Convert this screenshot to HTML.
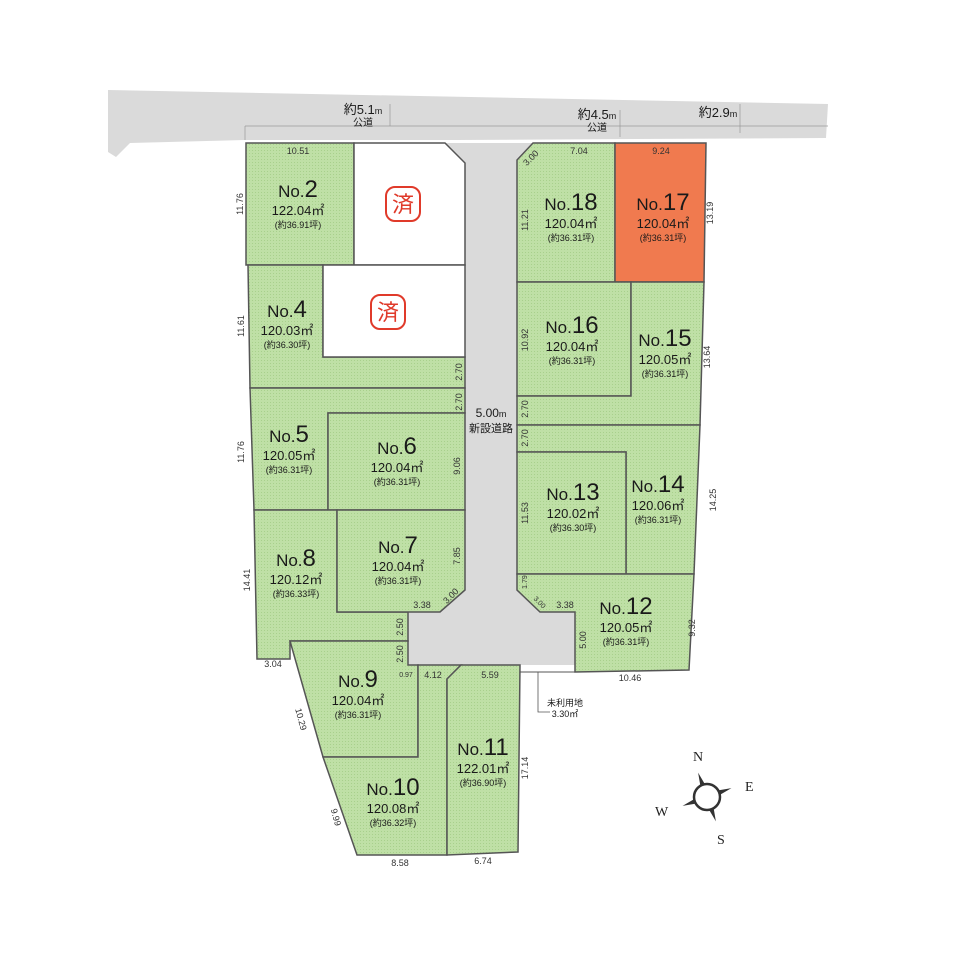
<!DOCTYPE html>
<html><head><meta charset="utf-8"><style>
html,body{margin:0;padding:0;background:#fff;}
svg{display:block;font-family:"Liberation Sans","Noto Sans CJK JP",sans-serif;}
.g{fill:#bfe0a6;stroke:#555;stroke-width:1.5}
.t{fill:#1a1a1a}
.d{font-size:9px;fill:#333}
</style></head><body>
<svg width="960" height="960" viewBox="0 0 960 960">
<defs>
<pattern id="h" width="3" height="3" patternUnits="userSpaceOnUse"><rect width="3" height="3" fill="#bfe0a6"/><rect width="1" height="1" fill="#a8d08c"/></pattern>
</defs>
<polygon points="108,90 828,104 826,138 455,140 245,140 130,143 116,157 108,152" fill="#dadada"/>
<line x1="245" y1="126" x2="828" y2="126" stroke="#999" stroke-width="0.7"/>
<line x1="245" y1="126" x2="245" y2="140" stroke="#999" stroke-width="0.7"/>
<line x1="390" y1="104" x2="390" y2="126" stroke="#999" stroke-width="0.7"/>
<line x1="620" y1="110" x2="620" y2="137" stroke="#999" stroke-width="0.7"/>
<line x1="740" y1="104" x2="740" y2="133" stroke="#999" stroke-width="0.7"/>
<polygon points="445,143 533,143 517,160 517,590 540,612 575,612 575,665 408,665 408,612 440,612 465,590 465,163" fill="#dadada"/>
<polygon class="g" style="fill:url(#h)" points="246,143 354,143 354,265 246,265"/>
<polygon points="354,143 445,143 465,163 465,265 354,265" fill="#fff" stroke="#555" stroke-width="1.5"/>
<polygon class="g" style="fill:url(#h)" points="248,265 323,265 323,357 465,357 465,388 250,388"/>
<polygon points="323,265 465,265 465,357 323,357" fill="#fff" stroke="#555" stroke-width="1.5"/>
<polygon class="g" style="fill:url(#h)" points="250,388 465,388 465,413 328,413 328,510 254,510"/>
<polygon class="g" style="fill:url(#h)" points="328,413 465,413 465,510 328,510"/>
<polygon class="g" style="fill:url(#h)" points="254,510 337,510 337,612 408,612 408,641 290,641 290,659 257,659"/>
<polygon class="g" style="fill:url(#h)" points="337,510 465,510 465,590 440,612 337,612"/>
<polygon class="g" style="fill:url(#h)" points="290,641 408,641 408,665 418,665 418,757 323,757"/>
<polygon class="g" style="fill:url(#h)" points="418,665 461,665 447,679 447,855 357,855 323,757 418,757"/>
<polygon class="g" style="fill:url(#h)" points="461,665 520,665 518,852 447,855 447,679"/>
<polygon class="g" style="fill:url(#h)" points="533,143 615,143 615,282 517,282 517,160"/>
<polygon points="615,143 706,143 704,282 615,282" fill="#f07a4f" stroke="#555" stroke-width="1.5"/>
<polygon class="g" style="fill:url(#h)" points="517,282 631,282 631,396 517,396"/>
<polygon class="g" style="fill:url(#h)" points="631,282 704,282 700,425 517,425 517,396 631,396"/>
<polygon class="g" style="fill:url(#h)" points="517,425 700,425 694,574 626,574 626,452 517,452"/>
<polygon class="g" style="fill:url(#h)" points="517,452 626,452 626,574 517,574"/>
<polygon class="g" style="fill:url(#h)" points="517,574 694,574 689,670 575,672 575,612 540,612 517,590"/>
<polyline points="520,672 575,672" fill="none" stroke="#555" stroke-width="1"/>
<polyline points="538,672 538,712 550,712" fill="none" stroke="#555" stroke-width="0.8"/>
<rect x="386" y="187" width="34" height="34" rx="9" fill="none" stroke="#e03a2a" stroke-width="2"/>
<text x="403" y="212" font-size="22" fill="#e03a2a" text-anchor="middle">済</text>
<rect x="371" y="295" width="34" height="34" rx="9" fill="none" stroke="#e03a2a" stroke-width="2"/>
<text x="388" y="320" font-size="22" fill="#e03a2a" text-anchor="middle">済</text>
<g class="t" text-anchor="middle">
<text x="363" y="114" font-size="13">約5.1<tspan font-size="9">m</tspan></text>
<text x="363" y="126" font-size="10">公道</text>
<text x="597" y="119" font-size="13">約4.5<tspan font-size="9">m</tspan></text>
<text x="597" y="131" font-size="10">公道</text>
<text x="718" y="117" font-size="13">約2.9<tspan font-size="9">m</tspan></text>
<text x="491" y="417" font-size="12">5.00<tspan font-size="9">m</tspan></text>
<text x="491" y="432" font-size="11">新設道路</text>
<text x="565" y="706" font-size="9">未利用地</text>
<text x="565" y="717" font-size="9">3.30㎡</text>
</g>
<g class="t" text-anchor="middle">
<text x="298" y="197"><tspan font-size="17">No.</tspan><tspan font-size="24">2</tspan></text><text x="298" y="215" font-size="13">122.04㎡</text><text x="298" y="228" font-size="9">(約36.91坪)</text>
<text x="287" y="317"><tspan font-size="17">No.</tspan><tspan font-size="24">4</tspan></text><text x="287" y="335" font-size="13">120.03㎡</text><text x="287" y="348" font-size="9">(約36.30坪)</text>
<text x="289" y="442"><tspan font-size="17">No.</tspan><tspan font-size="24">5</tspan></text><text x="289" y="460" font-size="13">120.05㎡</text><text x="289" y="473" font-size="9">(約36.31坪)</text>
<text x="397" y="454"><tspan font-size="17">No.</tspan><tspan font-size="24">6</tspan></text><text x="397" y="472" font-size="13">120.04㎡</text><text x="397" y="485" font-size="9">(約36.31坪)</text>
<text x="398" y="553"><tspan font-size="17">No.</tspan><tspan font-size="24">7</tspan></text><text x="398" y="571" font-size="13">120.04㎡</text><text x="398" y="584" font-size="9">(約36.31坪)</text>
<text x="296" y="566"><tspan font-size="17">No.</tspan><tspan font-size="24">8</tspan></text><text x="296" y="584" font-size="13">120.12㎡</text><text x="296" y="597" font-size="9">(約36.33坪)</text>
<text x="358" y="687"><tspan font-size="17">No.</tspan><tspan font-size="24">9</tspan></text><text x="358" y="705" font-size="13">120.04㎡</text><text x="358" y="718" font-size="9">(約36.31坪)</text>
<text x="393" y="795"><tspan font-size="17">No.</tspan><tspan font-size="24">10</tspan></text><text x="393" y="813" font-size="13">120.08㎡</text><text x="393" y="826" font-size="9">(約36.32坪)</text>
<text x="483" y="755"><tspan font-size="17">No.</tspan><tspan font-size="24">11</tspan></text><text x="483" y="773" font-size="13">122.01㎡</text><text x="483" y="786" font-size="9">(約36.90坪)</text>
<text x="626" y="614"><tspan font-size="17">No.</tspan><tspan font-size="24">12</tspan></text><text x="626" y="632" font-size="13">120.05㎡</text><text x="626" y="645" font-size="9">(約36.31坪)</text>
<text x="573" y="500"><tspan font-size="17">No.</tspan><tspan font-size="24">13</tspan></text><text x="573" y="518" font-size="13">120.02㎡</text><text x="573" y="531" font-size="9">(約36.30坪)</text>
<text x="658" y="492"><tspan font-size="17">No.</tspan><tspan font-size="24">14</tspan></text><text x="658" y="510" font-size="13">120.06㎡</text><text x="658" y="523" font-size="9">(約36.31坪)</text>
<text x="665" y="346"><tspan font-size="17">No.</tspan><tspan font-size="24">15</tspan></text><text x="665" y="364" font-size="13">120.05㎡</text><text x="665" y="377" font-size="9">(約36.31坪)</text>
<text x="572" y="333"><tspan font-size="17">No.</tspan><tspan font-size="24">16</tspan></text><text x="572" y="351" font-size="13">120.04㎡</text><text x="572" y="364" font-size="9">(約36.31坪)</text>
<text x="571" y="210"><tspan font-size="17">No.</tspan><tspan font-size="24">18</tspan></text><text x="571" y="228" font-size="13">120.04㎡</text><text x="571" y="241" font-size="9">(約36.31坪)</text>
<text x="663" y="210"><tspan font-size="17">No.</tspan><tspan font-size="24">17</tspan></text><text x="663" y="228" font-size="13">120.04㎡</text><text x="663" y="241" font-size="9">(約36.31坪)</text>
</g>
<g class="d" text-anchor="middle">
<text x="298" y="154">10.51</text>
<text x="579" y="154">7.04</text>
<text x="661" y="154">9.24</text>
<text x="422" y="608">3.38</text>
<text x="565" y="608">3.38</text>
<text x="273" y="667">3.04</text>
<text x="433" y="678">4.12</text>
<text x="490" y="678">5.59</text>
<text x="406" y="677" font-size="7">0.97</text>
<text x="630" y="681">10.46</text>
<text x="400" y="866">8.58</text>
<text x="483" y="864">6.74</text>
<text transform="translate(243,204) rotate(-90)">11.76</text>
<text transform="translate(244,326) rotate(-90)">11.61</text>
<text transform="translate(244,452) rotate(-90)">11.76</text>
<text transform="translate(250,580) rotate(-90)">14.41</text>
<text transform="translate(462,372) rotate(-90)">2.70</text>
<text transform="translate(462,402) rotate(-90)">2.70</text>
<text transform="translate(460,466) rotate(-90)">9.06</text>
<text transform="translate(460,556) rotate(-90)">7.85</text>
<text transform="translate(403,627) rotate(-90)">2.50</text>
<text transform="translate(403,654) rotate(-90)">2.50</text>
<text transform="translate(528,220) rotate(-90)">11.21</text>
<text transform="translate(528,340) rotate(-90)">10.92</text>
<text transform="translate(528,409) rotate(-90)">2.70</text>
<text transform="translate(528,438) rotate(-90)">2.70</text>
<text transform="translate(528,513) rotate(-90)">11.53</text>
<text transform="translate(586,640) rotate(-90)">5.00</text>
<text transform="translate(713,213) rotate(-90)">13.19</text>
<text transform="translate(710,357) rotate(-90)">13.64</text>
<text transform="translate(716,500) rotate(-90)">14.25</text>
<text transform="translate(695,628) rotate(-90)">9.32</text>
<text transform="translate(528,768) rotate(-90)">17.14</text>
<text transform="translate(298,720) rotate(75)">10.29</text>
<text transform="translate(333,818) rotate(75)">9.99</text>
<text transform="translate(533,160) rotate(-45)">3.00</text>
<text transform="translate(453,598) rotate(-45)">3.00</text>
<text transform="translate(538,604) rotate(45)" font-size="7">3.00</text>
<text transform="translate(527,582) rotate(-90)" font-size="7">1.79</text>
</g>
<g transform="translate(707,797)">
<polygon points="0,-26 4,-4 26,0 4,4 0,26 -4,4 -26,0 -4,-4" transform="rotate(-20)" fill="#333"/>
<circle r="13" fill="#fff" stroke="#333" stroke-width="2.5"/>
<text x="-14" y="-36" font-size="14" font-family="Liberation Serif,serif" fill="#222">N</text>
<text x="38" y="-6" font-size="14" font-family="Liberation Serif,serif" fill="#222">E</text>
<text x="10" y="47" font-size="14" font-family="Liberation Serif,serif" fill="#222">S</text>
<text x="-52" y="19" font-size="14" font-family="Liberation Serif,serif" fill="#222">W</text>
</g>
</svg>
</body></html>
